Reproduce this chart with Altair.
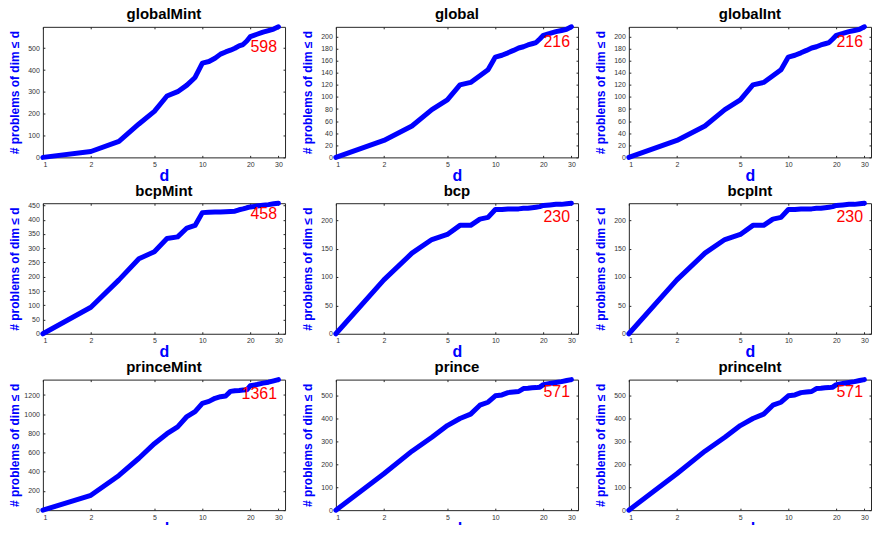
import altair as alt
import pandas as pd

# problem dimension d (x axis, log scale)
DIMS = list(range(1, 21)) + [22, 24, 26, 28, 30]

# cumulative number of problems of dimension <= d
GLOBAL_MINT = [0, 27, 73, 153, 211, 281, 301, 331, 366, 432, 439, 454, 473, 483, 491,
               500, 511, 517, 533, 553, 564, 574, 581, 588, 598]
GLOBAL = [0, 28, 52, 79, 95, 120, 124, 135, 145, 166, 169, 173, 177, 181, 183,
          186, 188, 190, 196, 202, 205, 208, 210, 212, 216]
GLOBAL_INT = [0, 28, 52, 79, 95, 120, 124, 135, 145, 166, 169, 173, 177, 181, 183,
              186, 188, 190, 196, 202, 205, 208, 210, 212, 216]
BCP_MINT = [0, 93, 189, 263, 288, 334, 340, 371, 380, 425, 426, 427, 427, 428, 429,
            430, 435, 438, 442, 445, 448, 451, 453, 456, 458]
BCP = [0, 95, 142, 166, 175, 191, 191, 202, 205, 219, 219, 220, 220, 220, 221,
       221, 222, 223, 224, 226, 227, 228, 228, 229, 230]
BCP_INT = [0, 95, 142, 166, 175, 191, 191, 202, 205, 219, 219, 220, 220, 220, 221,
           221, 222, 223, 224, 226, 227, 228, 228, 229, 230]
PRINCE_MINT = [0, 155, 362, 541, 693, 797, 869, 976, 1028, 1114, 1134, 1166, 1183, 1190, 1238,
               1245, 1248, 1252, 1255, 1297, 1310, 1324, 1334, 1348, 1361]
PRINCE = [0, 159, 258, 319, 370, 401, 420, 459, 472, 500, 504, 514, 517, 519, 532,
          533, 535, 536, 538, 549, 554, 558, 562, 567, 571]
PRINCE_INT = [0, 159, 258, 319, 370, 401, 420, 459, 472, 500, 504, 514, 517, 519, 532,
              533, 535, 536, 538, 549, 554, 558, 562, 567, 571]

TITLES = ["globalMint", "global", "globalInt",
          "bcpMint", "bcp", "bcpInt",
          "princeMint", "prince", "princeInt"]
SERIES = [GLOBAL_MINT, GLOBAL, GLOBAL_INT,
          BCP_MINT, BCP, BCP_INT,
          PRINCE_MINT, PRINCE, PRINCE_INT]
Y_TICKS = [list(range(0, 501, 100)), list(range(0, 201, 20)), list(range(0, 201, 20)),
           list(range(0, 451, 50)), list(range(0, 201, 50)), list(range(0, 201, 50)),
           list(range(0, 1201, 200)), list(range(0, 501, 100)), list(range(0, 501, 100))]
X_TICKS = [1, 2, 5, 10, 20, 30]

W, H = 243, 131
LABEL_DY = [20, 15, 15, 11, 14, 14, 14, 12, 12]

BLUE = "#0000ff"
TICK = 2


def panel(title, vals, yticks, dy):
    df = pd.DataFrame({"d": DIMS, "n": vals})
    ytp = 2 if max(yticks) >= 1000 else 6
    xscale = alt.Scale(type="log", domain=[1, 33], nice=False)
    yscale = alt.Scale(domain=[0, max(vals)], nice=False, zero=True)
    line = alt.Chart(df).mark_line(
        color=BLUE, strokeWidth=5, strokeJoin="round", strokeCap="round", clip=False
    ).encode(
        x=alt.X("d:Q", scale=xscale,
                axis=alt.Axis(values=X_TICKS, format="~g", title="d",
                              offset=-TICK, labelPadding=1 + TICK)),
        y=alt.Y("n:Q", scale=yscale,
                axis=alt.Axis(values=yticks, format="d", titlePadding=ytp,
                              offset=-TICK, labelPadding=1.5 + TICK,
                              title="# problems of dim ≤ d")),
    )
    # invisible copy that carries the mirrored (top / right) tick marks
    mirror = alt.Chart(df).mark_line(opacity=0).encode(
        x=alt.X("d:Q", scale=xscale,
                axis=alt.Axis(orient="top", values=X_TICKS, labels=False, title=None,
                              offset=-TICK)),
        y=alt.Y("n:Q", scale=yscale,
                axis=alt.Axis(orient="right", values=yticks, labels=False, title=None,
                              offset=-TICK)),
    )
    lab_df = pd.DataFrame({"t": [str(vals[-1])]})
    lab = alt.Chart(lab_df).mark_text(
        color="#ff0000", fontSize=16, align="right", baseline="middle",
        font="Liberation Sans"
    ).encode(
        text="t:N",
        x=alt.value(W - 8),
        y=alt.value(dy),
    )
    return alt.layer(line, mirror, lab).resolve_axis(
        x="independent", y="independent"
    ).properties(
        width=W, height=H,
        title=alt.Title(title, fontSize=15, fontWeight="bold", color="black",
                        font="Liberation Sans", offset=2),
    )


panels = [panel(t, s, yt, dy) for t, s, yt, dy in zip(TITLES, SERIES, Y_TICKS, LABEL_DY)]

chart = alt.concat(
    *panels, columns=3, spacing={"row": 46, "column": 51}, bounds="flush"
).properties(
    padding={"left": 0, "top": -2, "right": 0, "bottom": -13}
).configure_view(
    stroke="#262626", strokeWidth=1
).configure_axis(
    grid=False,
    domain=False,
    labelFontSize=7,
    labelColor="#333333",
    labelFont="Liberation Sans",
    tickColor="#262626",
    tickSize=TICK,
    titleColor=BLUE,
    titleFont="Liberation Sans",
    titleFontWeight="bold",
).configure_axisX(
    titleFontSize=16,
    titlePadding=0,
).configure_axisY(
    titleFontSize=12,
)

chart.save("out.html", embed_options={"renderer": "svg", "actions": False})
